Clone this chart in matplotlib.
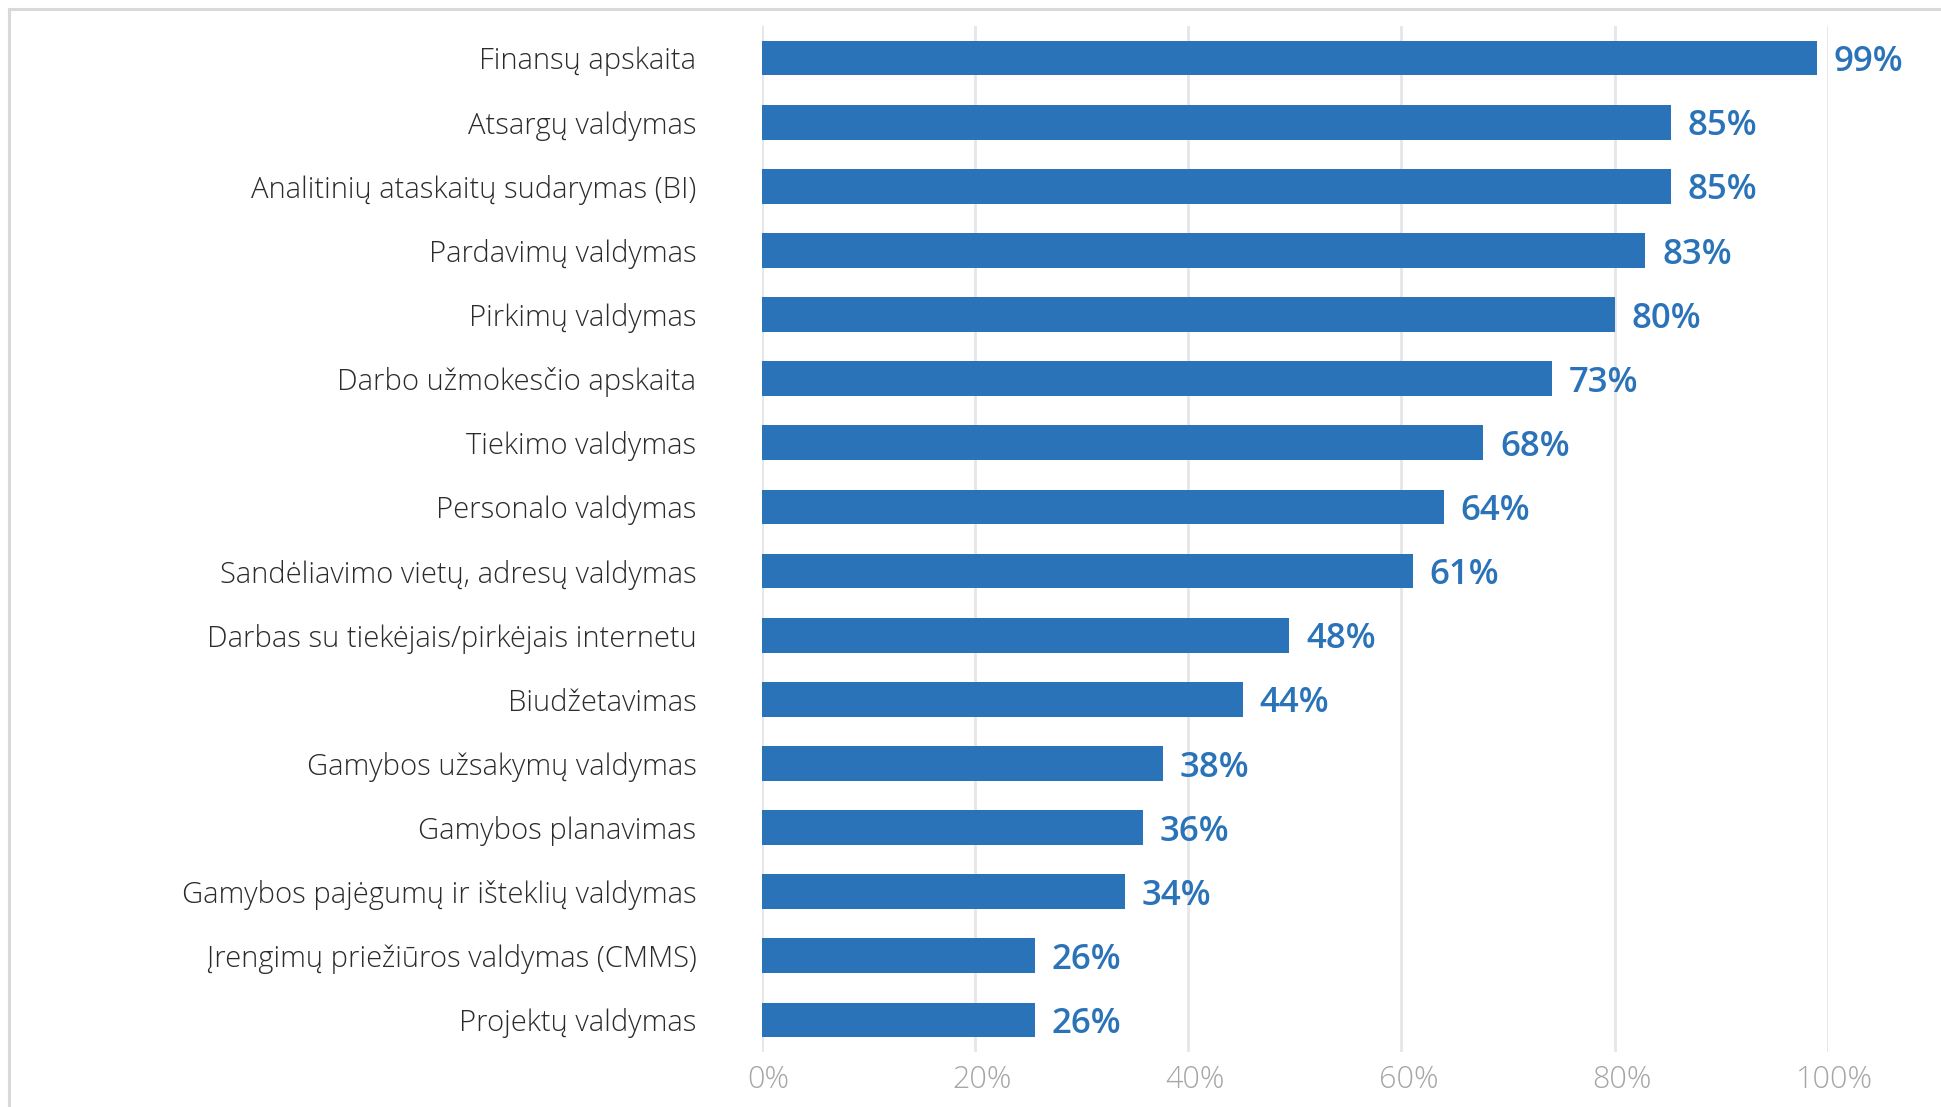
import matplotlib
matplotlib.use("Agg")
import matplotlib.pyplot as plt
import matplotlib.transforms as mtransforms
from matplotlib.patches import Rectangle

categories = [
    "Finansų apskaita",
    "Atsargų valdymas",
    "Analitinių ataskaitų sudarymas (BI)",
    "Pardavimų valdymas",
    "Pirkimų valdymas",
    "Darbo užmokesčio apskaita",
    "Tiekimo valdymas",
    "Personalo valdymas",
    "Sandėliavimo vietų, adresų valdymas",
    "Darbas su tiekėjais/pirkėjais internetu",
    "Biudžetavimas",
    "Gamybos užsakymų valdymas",
    "Gamybos planavimas",
    "Gamybos pajėgumų ir išteklių valdymas",
    "Įrengimų priežiūros valdymas (CMMS)",
    "Projektų valdymas",
]
# bar lengths as drawn (percent)
bar_values = [99, 85.3, 85.3, 82.9, 80, 74.1, 67.7, 64, 61.1, 49.5, 45.1, 37.6, 35.8, 34.1, 25.6, 25.6]
# printed labels
label_values = [99, 85, 85, 83, 80, 73, 68, 64, 61, 48, 44, 38, 36, 34, 26, 26]
x_ticks = [0, 20, 40, 60, 80, 100]
x_tick_labels = ["0%", "20%", "40%", "60%", "80%", "100%"]

BLUE = "#2a73b8"
FONT = "Open Sans"

plt.rcParams["font.family"] = [FONT, "DejaVu Sans"]

fig = plt.figure(figsize=(19.41, 11.07), dpi=100)
fig.patch.set_facecolor("white")

# outer frame (partially visible: top and left)
fig.patches.append(Rectangle((9 / 1941, -0.05), 1.2, 1 - 9 / 1107 + 0.05,
                             transform=fig.transFigure, fill=False,
                             edgecolor="#d9d9d9", linewidth=2.2, zorder=0))

ax = fig.add_axes([761.7 / 1941, 1 - 1052 / 1107, (1827.8 - 761.7) / 1941, (1052 - 26) / 1107])
ypos = list(range(len(categories)))
ax.barh(ypos, bar_values, height=0.54, color=BLUE, zorder=3)
ax.set_xlim(0, 100)
ax.set_ylim(len(categories) - 0.5, -0.5)

for y, v, lab in zip(ypos, bar_values, label_values):
    ax.annotate(f"{lab}%", xy=(v, y), xytext=(12, -3), textcoords="offset points",
                va="center", ha="left", fontsize=25, fontweight="semibold",
                color=BLUE, zorder=4)

ax.set_yticks(ypos)
ax.set_yticklabels(categories, fontsize=21, fontweight="light", color="#2b2b2b")
ax.set_xticks(x_ticks)
ax.set_xticklabels(x_tick_labels, fontsize=22, fontweight="light", color="#a6a6a6")
ax.tick_params(axis="y", length=0, pad=47)
ax.tick_params(axis="x", length=0, pad=9)
shift = mtransforms.ScaledTranslation(5 / 72, 0, fig.dpi_scale_trans)
for lbl in ax.get_xticklabels():
    lbl.set_transform(lbl.get_transform() + shift)
ax.grid(axis="x", color="#e6e6e6", linewidth=2, zorder=0)
ax.set_axisbelow(True)
for s in ax.spines.values():
    s.set_visible(False)

fig.savefig("out.png", dpi=100, facecolor="white")
